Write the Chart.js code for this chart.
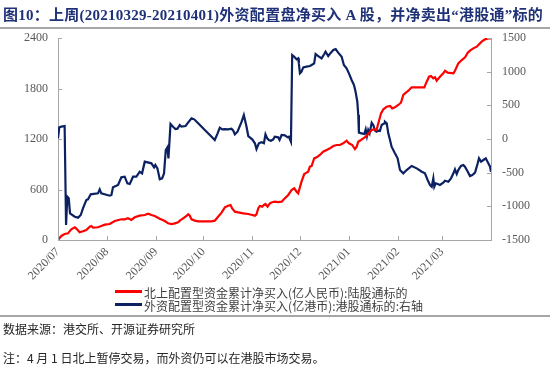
<!DOCTYPE html>
<html>
<head>
<meta charset="utf-8">
<script src="https://cdn.jsdelivr.net/npm/chart.js@4/dist/chart.umd.min.js"></script>
<style>
  html,body{margin:0;padding:0;background:#fff;width:550px;height:373px;overflow:hidden;}
  #wrap{position:relative;width:550px;height:373px;}
  canvas{position:absolute;left:0;top:0;}
  .ov{position:absolute;white-space:nowrap;pointer-events:none;}
  #title{left:3px;top:3px;font:bold 15px "Liberation Serif","Noto Sans CJK SC",serif;color:#1F3278;}
  #tline{left:0;top:27px;width:550px;height:2px;background:#A6A6A6;}
  #bline{left:0;top:315px;width:550px;height:2px;background:#A6A6A6;}
  .lg{left:115px;height:13px;line-height:13px;font:12px "Noto Sans CJK SC",sans-serif;color:#404040;}
  .lg i{display:inline-block;width:27px;height:3px;margin-right:2px;vertical-align:middle;position:relative;top:-1px;}
  .lg span{display:inline-block;vertical-align:middle;}
  #src{left:3px;top:320px;font:12px "Noto Sans CJK SC",sans-serif;color:#262626;}
  #note{left:3px;top:349px;font:12px "Noto Sans CJK SC",sans-serif;color:#262626;}
</style>
</head>
<body>
<div id="wrap">
  <canvas id="c" width="550" height="373"></canvas>
  <div class="ov" id="title">图10：上周(20210329-20210401)外资配置盘净买入 A 股，并净卖出“港股通”标的</div>
  <div class="ov" id="tline"></div>
  <div class="ov lg" id="lg1" style="top:282px;"><i style="background:#FF0000"></i><span id="lgt1"></span></div>
  <div class="ov lg" id="lg2" style="top:295px;"><i style="background:#0B2161"></i><span id="lgt2"></span></div>
  <div class="ov" id="bline"></div>
  <div class="ov" id="src">数据来源：港交所、开源证券研究所</div>
  <div class="ov" id="note">注：4 月 1 日北上暂停交易，而外资仍可以在港股市场交易。</div>
</div>
<script>
// ---- data (x = days since 2020-07-01) ----
const seriesNames = [
  "北上配置型资金累计净买入(亿人民币):陆股通标的",
  "外资配置型资金累计净买入(亿港币):港股通标的:右轴"
];
const monthTickDays = [0, 31, 62, 92, 123, 153, 184, 215, 243];
const monthTickLabels = ["2020/07","2020/08","2020/09","2020/10","2020/11","2020/12","2021/01","2021/02","2021/03"];
const leftTicks = [0, 600, 1200, 1800, 2400];
const rightTicks = [-1500, -1000, -500, 0, 500, 1000, 1500];

const redDays = [0,2.1,4.2,6.3,8.4,10.6,11.6,13.7,15.8,17.9,20.1,21.1,22.2,25.3,27.4,29.6,32.7,35.9,40.1,42.2,44.3,46.4,48.6,51.7,54.9,57,59.1,61.2,64.4,67.6,69.7,71.8,73.9,76,77.1,79.2,81.3,82.4,83.4,84.5,86.6,88.7,97.2,99.2,101.3,103.5,105.6,107.7,109.2,110.2,111.9,114,117.2,120.4,122.9,124.6,125.6,126.7,127.7,129.2,130.3,131.3,132.6,134.1,135.5,137.2,139.3,141.5,143.6,145.7,147.8,149.5,151,152,154.1,155.8,157.3,158.3,159.4,160.5,162.1,163.7,165.7,167.8,170,172.1,174.2,176.3,178.4,180.5,182.6,184.1,186.2,187.9,189,190,191.7,193.2,194.7,196.3,198.5,200.1,201.6,202.7,204.4,205.9,208,210.1,211.5,213.2,215.3,217,218.5,219.6,221.7,223.8,231.8,233.3,234.8,236,237.5,238.6,239.6,241.7,243.8,244.9,246.6,250.2,251.2,253.3,255.5,257.6,259.3,260.7,262.8,265,266.6,268.1,270.2,272.3,274];
const redValues = [0,48,71,79,127,151,135,91,103,119,158,166,146,151,166,182,190,226,246,246,258,238,270,289,297,313,297,285,253,225,198,190,198,210,230,257,285,305,289,245,230,222,222,230,277,325,388,408,416,376,337,329,317,309,297,289,305,376,404,396,416,428,396,436,448,455,451,455,495,535,594,614,574,554,693,784,800,812,871,879,970,982,1010,1049,1069,1089,1117,1129,1129,1149,1180,1149,1129,1081,1109,1168,1188,1208,1228,1259,1307,1315,1307,1386,1505,1553,1584,1592,1564,1576,1604,1631,1723,1742,1774,1814,1814,1881,1940,1948,1921,1933,1893,1940,1980,2011,1988,1980,2011,2099,2138,2170,2225,2249,2277,2297,2328,2356,2384,2396,2396];

const blueDays = [0,0.8,2.1,4.2,5.1,5.9,6.8,7.6,10.6,12.7,14.4,15.8,17.9,19,20.7,25.3,26.4,27.4,32.7,33.8,34.8,38,40.1,42.2,43.9,45.4,47.5,49.6,51.7,53.2,54.9,59.1,60.8,61.6,62.9,64.4,65.9,67.1,68.2,69.2,69.9,71.2,72.8,74.3,75.6,77.1,78.1,80.7,82.3,84.5,86.2,88.7,92.9,97.2,99.2,101,102.4,103.9,105.6,107.7,109.8,110.9,111.9,113.6,116.2,117.6,119.3,120.4,122.9,124.6,125.6,127.1,128.8,130.3,131.3,132.4,133.4,134.7,136.2,137.2,139.3,140.2,141.5,143.6,145.3,146.1,147.4,148.2,149.5,151,152,152.4,153.1,154.1,155.2,157.3,159.4,160.5,162.1,163,164.7,166.8,168.5,169.3,171,172.7,174.2,175.7,177.3,179.5,180.9,182.6,184.1,185.8,187.3,188.3,189.4,190,190.4,192.1,193.8,194.7,195.5,196.3,197.2,198.5,199.5,200.6,201.6,202.7,203.7,204.8,206.5,206.9,208,209,210.1,211.1,213.2,214.9,216.4,218.5,220.6,223.8,227,230.2,232.2,233.9,235.4,236.5,237.5,238.1,239,240.3,241.7,243.8,244.9,247,248.7,250.2,251.2,252.3,253.3,255,256.5,257.5,259.3,260.7,262.2,263.9,265.6,266.4,267.7,269.2,270.7,272.3,273.4,274];
const blueValues = [10,173,183,193,-1277,-857,-881,-1104,-1154,-1168,-1129,-1030,-906,-896,-822,-807,-748,-807,-842,-832,-718,-683,-569,-560,-658,-668,-560,-560,-486,-510,-337,-361,-421,-386,-436,-599,-584,-510,-164,-124,-287,223,183,148,153,208,183,193,242,307,292,233,134,34,-15,84,168,144,148,144,153,124,69,109,257,356,183,44,-5,-64,-149,-64,-49,-64,69,10,-15,-25,-5,34,25,-15,59,54,25,34,-40,1247,1222,1183,1198,1124,975,999,1064,1074,1084,1099,1124,1262,1232,1198,1262,1297,1232,1282,1322,1336,1282,1222,1099,1049,975,876,802,703,554,356,94,84,74,144,44,134,84,242,208,124,109,124,119,208,233,257,233,84,-15,-114,-213,-287,-461,-510,-461,-401,-436,-486,-510,-609,-683,-708,-584,-708,-658,-668,-683,-649,-619,-634,-584,-510,-451,-520,-461,-401,-386,-411,-486,-550,-535,-500,-361,-287,-337,-312,-287,-361,-411,-486];

document.getElementById('lgt1').textContent = seriesNames[0];
document.getElementById('lgt2').textContent = seriesNames[1];

// spread text so that it spans the same width as in the reference
function fitWidth(id, target) {
  const el = document.getElementById(id);
  el.style.letterSpacing = '0px';
  const w = el.getBoundingClientRect().width;
  const n = el.textContent.length;
  el.style.letterSpacing = Math.max(0, (target - w) / n) + 'px';
}
function fitAll() {
  fitWidth('title', 540);
  fitWidth('lgt1', 263);
  fitWidth('lgt2', 279);
  fitWidth('src', 192);
  fitWidth('note', 313);
}
fitAll();
window.addEventListener('load', fitAll);

const axisColor = '#A6A6A6';
const tickFont = {family: '"Liberation Serif", serif', size: 12};
const tickColor = '#595959';

const inwardTicks = {
  id: 'inwardTicks',
  afterDraw(chart) {
    const {ctx, chartArea: a, scales} = chart;
    ctx.save();
    ctx.strokeStyle = axisColor;
    ctx.lineWidth = 1;
    ctx.beginPath();
    monthTickDays.forEach(d => {
      const x = Math.round(scales.x.getPixelForValue(d)) + 0.5;
      ctx.moveTo(x, a.bottom); ctx.lineTo(x, a.bottom - 4);
    });
    leftTicks.forEach(v => {
      const y = Math.round(scales.y.getPixelForValue(v)) + 0.5;
      ctx.moveTo(a.left, y); ctx.lineTo(a.left + 4, y);
    });
    rightTicks.forEach(v => {
      const y = Math.round(scales.y1.getPixelForValue(v)) + 0.5;
      ctx.moveTo(a.right, y); ctx.lineTo(a.right - 4, y);
    });
    ctx.stroke();
    ctx.restore();
  }
};

new Chart(document.getElementById('c'), {
  type: 'line',
  data: {
    datasets: [
      {label: seriesNames[0], data: redDays.map((d, i) => ({x: d, y: redValues[i]})),
       borderColor: '#FF0000', borderWidth: 2.2, pointRadius: 0, tension: 0, yAxisID: 'y'},
      {label: seriesNames[1], data: blueDays.map((d, i) => ({x: d, y: blueValues[i]})),
       borderColor: '#0B2161', borderWidth: 2.2, pointRadius: 0, tension: 0, yAxisID: 'y1'}
    ]
  },
  options: {
    responsive: false,
    animation: false,
    layout: {padding: {top: 38, bottom: 88, left: 0, right: 0}},
    plugins: {legend: {display: false}, title: {display: false}, tooltip: {enabled: false}},
    scales: {
      x: {
        type: 'linear', min: 0, max: 274,
        grid: {display: false, drawTicks: false},
        border: {color: axisColor, width: 1},
        afterBuildTicks: s => { s.ticks = monthTickDays.map(v => ({value: v})); },
        afterFit: s => { s.height = 45; },
        ticks: {autoSkip: false, minRotation: 45, maxRotation: 45, padding: 5,
                font: tickFont, color: tickColor,
                callback: (v, i) => monthTickLabels[i]}
      },
      y: {
        position: 'left', min: 0, max: 2400,
        grid: {display: false, drawTicks: false},
        border: {color: axisColor, width: 1},
        afterBuildTicks: s => { s.ticks = leftTicks.map(v => ({value: v})); },
        afterFit: s => { s.width = 58; },
        ticks: {padding: 10, font: tickFont, color: tickColor, callback: v => String(v)}
      },
      y1: {
        position: 'right', min: -1500, max: 1500,
        grid: {display: false, drawTicks: false},
        border: {color: axisColor, width: 1},
        afterBuildTicks: s => { s.ticks = rightTicks.map(v => ({value: v})); },
        afterFit: s => { s.width = 59; },
        ticks: {padding: 11, font: tickFont, color: tickColor, callback: v => String(v)}
      }
    }
  },
  plugins: [inwardTicks]
});
</script>
</body>
</html>
